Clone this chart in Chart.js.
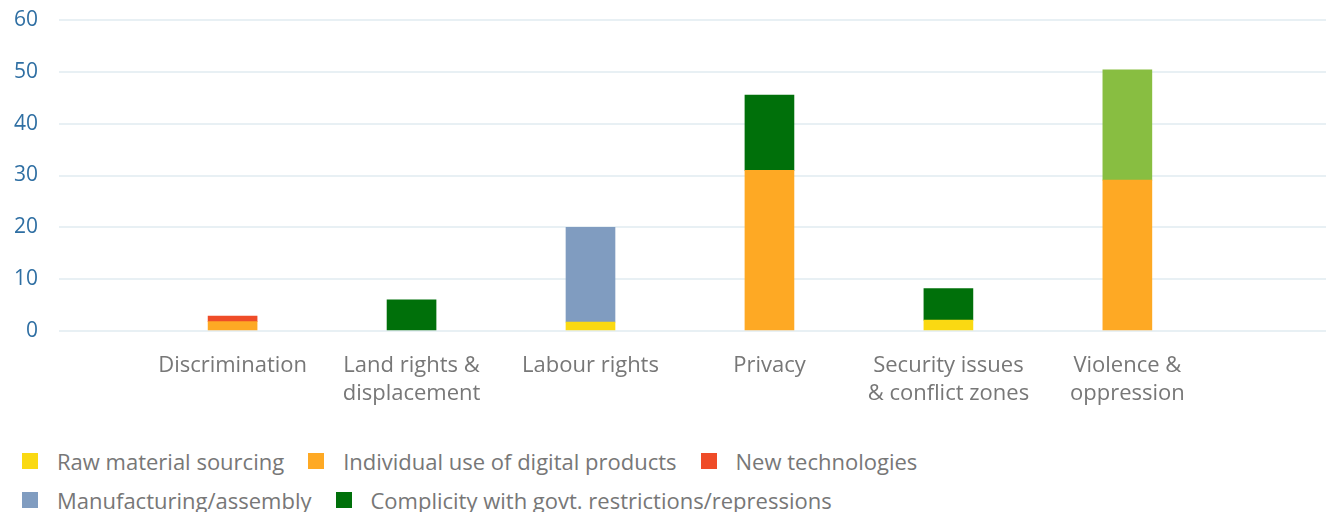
<!DOCTYPE html>
<html>
<head>
<meta charset="utf-8">
<script src="https://cdn.jsdelivr.net/npm/chart.js@4/dist/chart.umd.min.js"></script>
<style>
  html, body { margin:0; padding:0; background:#fff; }
  #wrap { position:relative; width:1330px; height:420px; }
  #legend { position:absolute; left:22px; top:441px; font-family:"Open Sans", sans-serif; font-size:22px; color:#777; }
  .row { display:flex; align-items:center; height:39px; white-space:nowrap; }
  .item { display:flex; align-items:center; margin-right:24px; }
  .box { width:16px; height:16px; margin-right:19px; flex:none; }
</style>
</head>
<body>
<div id="wrap"><canvas id="c"></canvas></div>
<div id="legend"></div>
<script>
// issue areas along the x axis
const categories = [
  'Discrimination',
  ['Land rights &', 'displacement'],
  'Labour rights',
  'Privacy',
  ['Security issues', '& conflict zones'],
  ['Violence &', 'oppression']
];

// stacked segments per issue area (null = no segment)
const rawMaterial   = [null, null, 1.7, null, 2.1, null];
const individualUse = [1.8, null, null, 31.0, null, 29.1];
const newTech       = [1.1, null, null, null, null, null];
const manufacturing = [null, null, 18.3, null, null, null];
const complicity    = [null, 6.0, null, 14.5, 6.1, null];
const otherVals     = [null, null, null, null, null, 21.3];

const yTicks = [0, 10, 20, 30, 40, 50, 60];

const series = [
  {label:'Raw material sourcing', data:rawMaterial, color:'#fad912'},
  {label:'Individual use of digital products', data:individualUse, color:'#fea924'},
  {label:'New technologies', data:newTech, color:'#ef4c28'},
  {label:'Manufacturing/assembly', data:manufacturing, color:'#809cc0'},
  {label:'Complicity with govt. restrictions/repressions', data:complicity, color:'#00700a'},
  {label:'Other', data:otherVals, color:'#88be41'}
];

// legend rows as laid out under the plot
const legendRows = [[0, 1, 2], [3, 4]];

const FONT = '"Open Sans", sans-serif';

new Chart(document.getElementById('c'), {
  type:'bar',
  data:{
    datasets: series.map(s => ({
      label:s.label,
      data:s.data.map((v, i) => ({x:i + 1, y:v})),
      backgroundColor:s.color,
      borderWidth:0,
      barThickness:49
    }))
  },
  options:{
    responsive:true, maintainAspectRatio:false, animation:false,
    layout:{padding:{left:10, right:4, top:20, bottom:11}},
    plugins:{legend:{display:false}, tooltip:{enabled:false}},
    scales:{
      x:{
        type:'linear', stacked:true, offset:false, min:0.03, max:7.11,
        afterBuildTicks: sc => { sc.ticks = categories.map((_, i) => ({value:i + 1})); },
        afterFit: sc => { sc.height = 78; },
        ticks:{
          callback:(v) => categories[v - 1] ?? '',
          color:'#777', font:{family:FONT, size:22, lineHeight:1.27},
          padding:21, maxRotation:0, autoSkip:false
        },
        grid:{display:false, drawTicks:false},
        border:{display:false}
      },
      y:{
        stacked:true, min:0, max:60,
        afterBuildTicks: sc => { sc.ticks = yTicks.map(v => ({value:v})); },
        afterFit: sc => { sc.width = 49; sc.paddingTop = 0; sc.paddingBottom = 0; },
        ticks:{color:'#2f6fa3', font:{family:FONT, size:21}, padding:21},
        grid:{color:'#e8f0f4', lineWidth:2, drawTicks:false},
        border:{display:false}
      }
    }
  }
});

// html legend
const lg = document.getElementById('legend');
legendRows.forEach(r => {
  const row = document.createElement('div');
  row.className = 'row';
  r.forEach(k => {
    const s = series[k];
    const it = document.createElement('div');
    it.className = 'item';
    it.innerHTML = `<span class="box" style="background:${s.color}"></span><span>${s.label}</span>`;
    row.appendChild(it);
  });
  lg.appendChild(row);
});
</script>
</body>
</html>
